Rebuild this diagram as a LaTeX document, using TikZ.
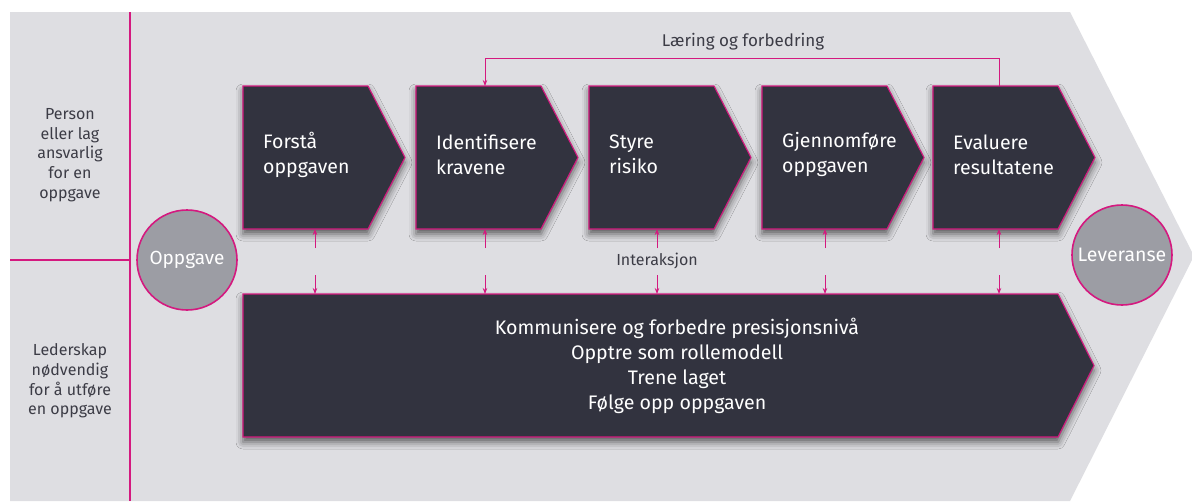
\documentclass[tikz,border=0pt]{standalone}
\usepackage{fontspec}
\setmainfont{Fira Sans}
\usetikzlibrary{arrows.meta,shadows.blur,calc}
\definecolor{bg}{HTML}{DEDEE2}
\definecolor{chev}{HTML}{32333F}
\definecolor{mag}{HTML}{D4197F}
\definecolor{circ}{HTML}{9C9DA4}
\definecolor{txt}{HTML}{3C3C46}
\newcommand\chevstep[3]{%
  \path[chevshape] (#2,86) -- ++(125,0) -- ++(37,71.5) -- ++(-37,71.5) -- ++(-125,0) -- cycle;
  \node[rectpart, anchor=north west] (#1) at (#2,86) {};
  \node[steptext, anchor=west] (#1t) at ($(#1.west)+(20,-3)$) {#3};
}
\begin{document}
\begin{tikzpicture}[x=1pt,y=-1pt,
  chevshape/.style={fill=chev, draw=mag, line width=1.1pt,
    blur shadow={shadow xshift=0pt, shadow yshift=-5pt, shadow blur radius=7pt, shadow opacity=60}},
  rectpart/.style={minimum width=125pt, minimum height=143pt, inner sep=0pt, outer sep=0pt},
  steptext/.style={text=white, font=\fontsize{19.5}{25}\selectfont, align=left, inner sep=0pt},
  bigtext/.style={text=white, font=\fontsize{19.6}{25}\selectfont, align=center, inner sep=0pt},
  lefttext/.style={text=txt, font=\fontsize{16}{19.7}\selectfont, align=center, inner sep=0pt},
  labeltext/.style={text=txt, font=\fontsize{16}{18}\selectfont, inner sep=0pt},
  circnode/.style={circle, fill=circ, draw=mag, line width=1.6pt, minimum size=100pt, inner sep=0pt,
    text=white, font=\fontsize{19}{20}\selectfont},
  arr/.style={draw=mag, line width=0.9pt, -{Stealth[length=6pt,width=4.5pt]}},
  divider/.style={draw=mag, line width=1.6pt}
]
\useasboundingbox (0,0) rectangle (1192,501);
\fill[white] (0,0) rectangle (1192,501);
\fill[bg] (10,12) -- (1070,12) -- (1194,256) -- (1070,501) -- (10,501) -- cycle;

% left panel dividers
\draw[divider] (130,12) -- (130,501);
\draw[divider] (10,260) -- (130,260);
\node[lefttext] (person) at (70,155) {Person\\eller lag\\ansvarlig\\for en\\oppgave};
\node[lefttext] (leder) at (70,381) {Lederskap\\nødvendig\\for å utføre\\en oppgave};

% process steps
\chevstep{c1}{243}{Forstå\\oppgaven}
\chevstep{c2}{416}{Identifisere\\kravene}
\chevstep{c3}{589}{Styre\\risiko}
\chevstep{c4}{762}{Gjennomføre\\oppgaven}
\chevstep{c5}{933}{Evaluere\\resultatene}

% leadership box
\path[chevshape] (243,294) -- (1058,294) -- (1094,365.5) -- (1058,437) -- (243,437) -- cycle;
\node[minimum width=815pt, minimum height=143pt, inner sep=0pt, outer sep=0pt, anchor=north west] (L) at (243,294) {};
\node[bigtext] (Lt) at (677,366) {Kommunisere og forbedre presisjonsnivå\\Opptre som rollemodell\\Trene laget\\Følge opp oppgaven};

% circles
\node[circnode] (opp) at (187,260) {Oppgave};
\node[circnode, font=\fontsize{19.5}{20}\selectfont] (lev) at (1122,255) {Leveranse};

% interaction arrows
\foreach \c/\x in {c1/315,c2/485,c3/657,c4/825,c5/999}{
  \coordinate (u\c) at (\x,248);
  \draw[arr] (u\c) -- (u\c |- \c.south);
  \coordinate (d\c) at (\x,275);
  \draw[arr] (d\c) -- (d\c |- L.north);
}
\node[labeltext] (inter) at (657,261) {Interaksjon};

% feedback loop
\coordinate (fbs) at (999,86);
\coordinate (fbe) at (485,86);
\draw[arr] (fbs) -- ++(0,-28) -| (fbe);
\node[labeltext, font=\fontsize{17}{18}\selectfont] (laering) at (743,42) {Læring og forbedring};
\end{tikzpicture}
\end{document}
